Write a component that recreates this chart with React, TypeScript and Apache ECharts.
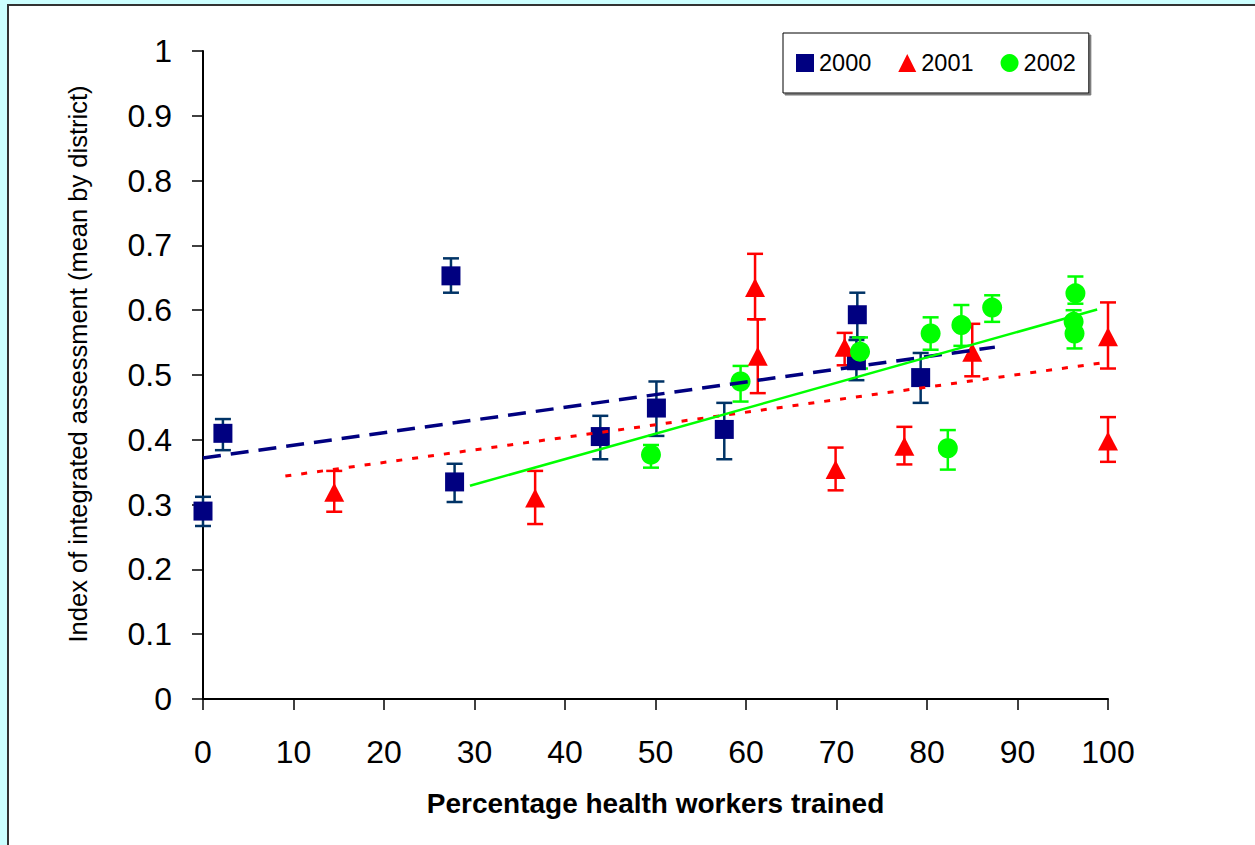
import React, { useEffect, useRef } from "react";
import * as echarts from "echarts";

const years = ["2000", "2001", "2002"];

// 2000 — squares
const x2000 = [0, 2.2, 27.4, 27.8, 43.9, 50.1, 57.6, 72.3, 72.2, 79.3];
const y2000 = [0.29, 0.41, 0.653, 0.335, 0.405, 0.449, 0.416, 0.593, 0.522, 0.496];
const hi2000 = [0.312, 0.432, 0.68, 0.363, 0.437, 0.49, 0.457, 0.627, 0.554, 0.534];
const lo2000 = [0.267, 0.384, 0.627, 0.304, 0.37, 0.406, 0.37, 0.558, 0.492, 0.457];

// 2001 — triangles
const x2001 = [14.5, 36.7, 61.0, 61.3, 70.9, 69.9, 77.5, 85.0, 100, 100];
const y2001 = [0.319, 0.31, 0.635, 0.529, 0.543, 0.354, 0.39, 0.535, 0.559, 0.398];
const hi2001 = [0.352, 0.352, 0.687, 0.586, 0.565, 0.388, 0.42, 0.579, 0.612, 0.435];
const lo2001 = [0.289, 0.27, 0.586, 0.472, 0.515, 0.322, 0.362, 0.498, 0.51, 0.366];

// 2002 — circles
const x2002 = [49.5, 59.4, 72.6, 80.4, 83.8, 87.2, 82.3, 96.4, 96.2, 96.3];
const y2002 = [0.377, 0.49, 0.536, 0.564, 0.577, 0.604, 0.387, 0.626, 0.582, 0.564];
const hi2002 = [0.392, 0.514, 0.558, 0.589, 0.608, 0.623, 0.415, 0.652, 0.6, 0.585];
const lo2002 = [0.357, 0.459, 0.51, 0.539, 0.545, 0.582, 0.354, 0.61, 0.56, 0.541];

// trend lines (end points)
const trend2000X = [0, 87.5];
const trend2000Y = [0.372, 0.543];
const trend2001X = [9.1, 100];
const trend2001Y = [0.344, 0.52];
const trend2002X = [29.5, 98.8];
const trend2002Y = [0.329, 0.601];

const pts = (xs: number[], ys: number[]) => xs.map((v, i) => [v, ys[i]]);
const errs = (xs: number[], lo: number[], hi: number[]) => xs.map((v, i) => [v, lo[i], hi[i]]);

const errSeries = (name: string, data: number[][], color: string) => ({
  type: "custom",
  name,
  silent: true,
  data,
  encode: { x: 0, y: [1, 2] },
  renderItem: (params: any, api: any) => {
    const x = api.value(0);
    const top = api.coord([x, api.value(2)]);
    const bot = api.coord([x, api.value(1)]);
    const w = 8;
    const style = { stroke: color, lineWidth: 2.5, fill: null };
    return {
      type: "group",
      children: [
        { type: "line", shape: { x1: top[0], y1: top[1], x2: bot[0], y2: bot[1] }, style },
        { type: "line", shape: { x1: top[0] - w, y1: top[1], x2: top[0] + w, y2: top[1] }, style },
        { type: "line", shape: { x1: bot[0] - w, y1: bot[1], x2: bot[0] + w, y2: bot[1] }, style },
      ],
    };
  },
});

export default function App() {
  const ref = useRef<HTMLDivElement>(null);
  useEffect(() => {
    if (!ref.current) return;
    const chart = echarts.init(ref.current, null, { renderer: "svg" });
    const tickFont = { fontSize: 32, fontFamily: "Liberation Sans, Arial, sans-serif", color: "#000" };
    chart.setOption({
      animation: false,
      backgroundColor: "#ccffff",
      graphic: [
        {
          type: "rect",
          z: -10,
          shape: { x: 8, y: 5, width: 1270, height: 860 },
          style: { fill: "#ffffff", stroke: "#333333", lineWidth: 2 },
        },
      ],
      grid: { left: 203, top: 51, right: 147, bottom: 146, containLabel: false },
      legend: {
        data: years,
        left: 783,
        top: 33,
        itemWidth: 18,
        itemHeight: 18,
        itemGap: 27,
        padding: [18, 13, 18, 13],
        borderColor: "#000",
        borderWidth: 1,
        backgroundColor: "#fff",
        shadowColor: "#777",
        shadowOffsetX: 2,
        shadowOffsetY: 2,
        textStyle: { fontSize: 23.5, fontFamily: "Liberation Sans, Arial, sans-serif", color: "#000" },
      },
      xAxis: {
        type: "value",
        min: 0,
        max: 100,
        interval: 10,
        name: "Percentage health workers trained",
        nameLocation: "middle",
        nameGap: 90,
        nameTextStyle: { fontSize: 28, fontWeight: "bold", fontFamily: "Liberation Sans, Arial, sans-serif", color: "#000" },
        axisLine: { lineStyle: { color: "#000", width: 2 } },
        axisTick: { length: 11, lineStyle: { color: "#000", width: 1.5 } },
        axisLabel: { ...tickFont, margin: 37, formatter: (v: number) => String(v) },
        splitLine: { show: false },
      },
      yAxis: {
        type: "value",
        min: 0,
        max: 1,
        interval: 0.1,
        name: "Index of integrated assessment (mean by district)",
        nameLocation: "middle",
        nameGap: 112,
        nameTextStyle: {
          fontSize: 25.5,
          fontFamily: "Liberation Sans, Arial, sans-serif",
          color: "#000",
          padding: [0, 0, 0, 22],
        },
        axisLine: { show: true, lineStyle: { color: "#000", width: 2 } },
        axisTick: { show: true, length: 11, lineStyle: { color: "#000", width: 1.5 } },
        axisLabel: { ...tickFont, margin: 31, formatter: (v: number) => String(Math.round(v * 10) / 10) },
        splitLine: { show: false },
      },
      series: [
        errSeries("err2000", errs(x2000, lo2000, hi2000), "#003366"),
        {
          type: "scatter",
          name: "2000",
          data: pts(x2000, y2000),
          symbol: "rect",
          symbolSize: 19,
          itemStyle: { color: "#000080", opacity: 1 },
        },
        errSeries("err2001", errs(x2001, lo2001, hi2001), "#ff0000"),
        {
          type: "scatter",
          name: "2001",
          data: pts(x2001, y2001),
          symbol: "triangle",
          symbolSize: [20, 19],
          itemStyle: { color: "#ff0000", opacity: 1 },
        },
        errSeries("err2002", errs(x2002, lo2002, hi2002), "#00ff00"),
        {
          type: "scatter",
          name: "2002",
          data: pts(x2002, y2002),
          symbol: "circle",
          symbolSize: 20,
          itemStyle: { color: "#00ff00", opacity: 1 },
        },
        {
          type: "line",
          name: "trend2000",
          data: pts(trend2000X, trend2000Y),
          symbol: "none",
          silent: true,
          lineStyle: { color: "#000080", width: 3.5, type: [18, 10] },
        },
        {
          type: "line",
          name: "trend2001",
          data: pts(trend2001X, trend2001Y),
          symbol: "none",
          silent: true,
          lineStyle: { color: "#ff0000", width: 3, type: [6, 10] },
        },
        {
          type: "line",
          name: "trend2002",
          data: pts(trend2002X, trend2002Y),
          symbol: "none",
          silent: true,
          lineStyle: { color: "#00ff00", width: 2.5 },
        },
      ],
    });
    return () => chart.dispose();
  }, []);
  return (
    <div
      ref={ref}
      style={{ position: "fixed", left: 0, top: 0, width: 1255, height: 845 }}
    />
  );
}
